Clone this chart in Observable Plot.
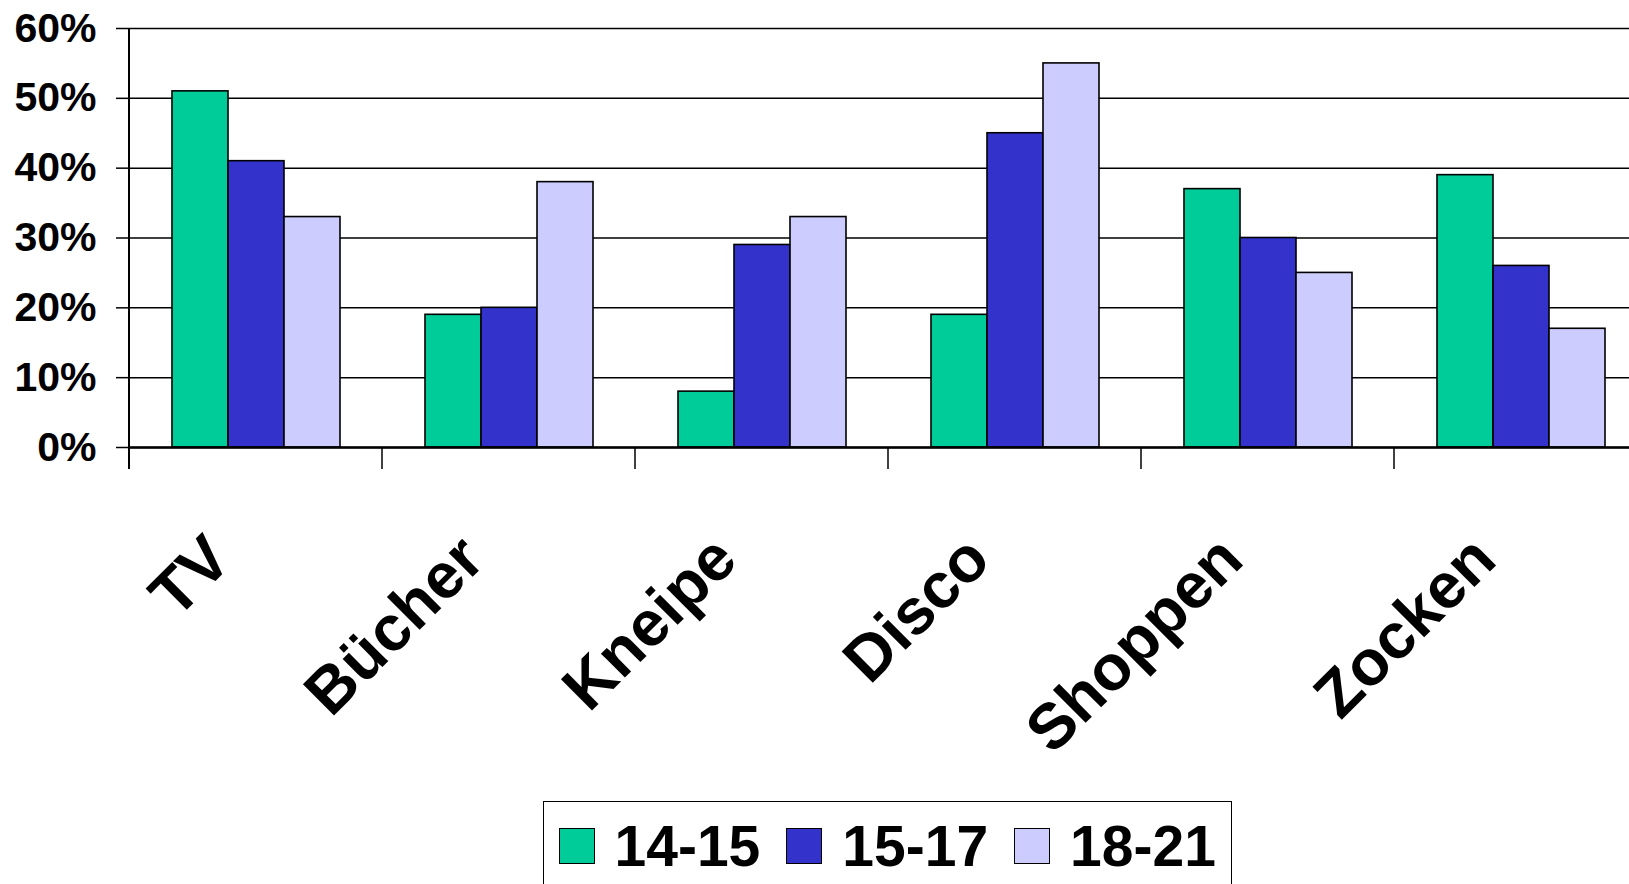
<!DOCTYPE html>
<html>
<head>
<meta charset="utf-8">
<script src="https://cdn.jsdelivr.net/npm/d3@7"></script>
<script src="https://cdn.jsdelivr.net/npm/@observablehq/plot@0.6"></script>
<style>
  html, body { margin: 0; padding: 0; overflow: hidden; background: #fff; }
  body { font-family: "Liberation Sans", Arial, sans-serif; }
  #chart svg { display: block; max-width: none !important; }
  .legend {
    position: absolute; left: 543px; top: 801px;
    width: 689px; height: 130px; box-sizing: border-box;
    border: 1.5px solid #000; background: #fff;
  }
  .legend .row { display: flex; align-items: center; height: 88px; padding-left: 14.5px; white-space: nowrap; }
  .legend .sw { flex: 0 0 auto; width: 36px; height: 36px; box-sizing: border-box; border: 1.5px solid #000; margin-right: 20px; }
  .legend .lab { flex: 0 0 auto; white-space: nowrap; font-size: 57px; font-weight: bold; line-height: 1; margin-right: 26px; color: #000; }
</style>
</head>
<body>
<div id="chart"></div>
<script>
// Freizeit nach Altersgruppe (Anteil in %)
const categories = ["TV", "Bücher", "Kneipe", "Disco", "Shoppen", "Zocken"];
const groups = ["14-15", "15-17", "18-21"];
const colors = ["#00cc99", "#3333cc", "#ccccff"];
const values1415 = [51, 19, 8, 19, 37, 39];
const values1517 = [41, 20, 29, 45, 30, 26];
const values1821 = [33, 38, 33, 55, 25, 17];
const yTicks = [0, 10, 20, 30, 40, 50, 60];

const seriesValues = [values1415, values1517, values1821];
const rows = [];
categories.forEach((cat, i) => {
  groups.forEach((grp, j) => rows.push({cat, grp, value: seriesValues[j][i]}));
});

const chart = Plot.plot({
  width: 1647,
  height: 790,
  marginTop: 28,
  marginLeft: 128,
  marginRight: 0,
  marginBottom: 343,
  style: {fontFamily: "'Liberation Sans', Arial, sans-serif", fontWeight: "bold", fontSize: "41px", color: "#000", background: "#fff"},
  fx: {domain: categories, padding: 0, axis: null},
  x: {domain: groups, paddingInner: 0, paddingOuter: 0.73, axis: null},
  y: {domain: [0, 60], axis: null},
  color: {domain: groups, range: colors},
  marks: [
    Plot.gridY(yTicks, {stroke: "#000", strokeOpacity: 1, strokeWidth: 1.5}),
    Plot.barY(rows, {fx: "cat", x: "grp", y: "value", fill: "grp", stroke: "#000", strokeWidth: 1.6}),
    Plot.ruleY([0], {stroke: "#000", strokeWidth: 2.5}),
    Plot.axisY(yTicks, {
      anchor: "left", facetAnchor: "left",
      tickSize: 13, tickPadding: 20, strokeWidth: 1.5,
      tickFormat: d => d + "%", label: null,
      fontSize: 41, fontWeight: "bold"
    }),
    Plot.text(categories, {
      fx: d => d, text: d => d,
      frameAnchor: "bottom", rotate: -45,
      textAnchor: "end", lineAnchor: "bottom",
      dx: -22, dy: 115,
      fontSize: 64, fontWeight: "bold", fill: "#000"
    })
  ]
});

// y axis line and category separator ticks below the baseline
const fxScale = chart.scale("fx");
const yScale = chart.scale("y");
const y0 = yScale.apply(0);
const yTop = yScale.apply(60);
const tickLen = 22;
const ticks = d3.select(chart).append("g").attr("stroke", "#000");
ticks.append("line")
  .attr("x1", fxScale.apply(categories[0])).attr("x2", fxScale.apply(categories[0]))
  .attr("y1", yTop).attr("y2", y0 + tickLen).attr("stroke-width", 2);
categories.slice(1).forEach(c => {
  const x = fxScale.apply(c);
  ticks.append("line").attr("x1", x).attr("x2", x)
    .attr("y1", y0).attr("y2", y0 + tickLen).attr("stroke-width", 1.5);
});

document.getElementById("chart").appendChild(chart);

// Legend built from the chart's color scale
const colorScale = chart.scale("color");
const legend = d3.select("body").append("div").attr("class", "legend");
const row = legend.append("div").attr("class", "row");
groups.forEach(g => {
  row.append("div").attr("class", "sw").style("background", colorScale.apply(g));
  row.append("div").attr("class", "lab").text(g);
});
</script>
</body>
</html>
